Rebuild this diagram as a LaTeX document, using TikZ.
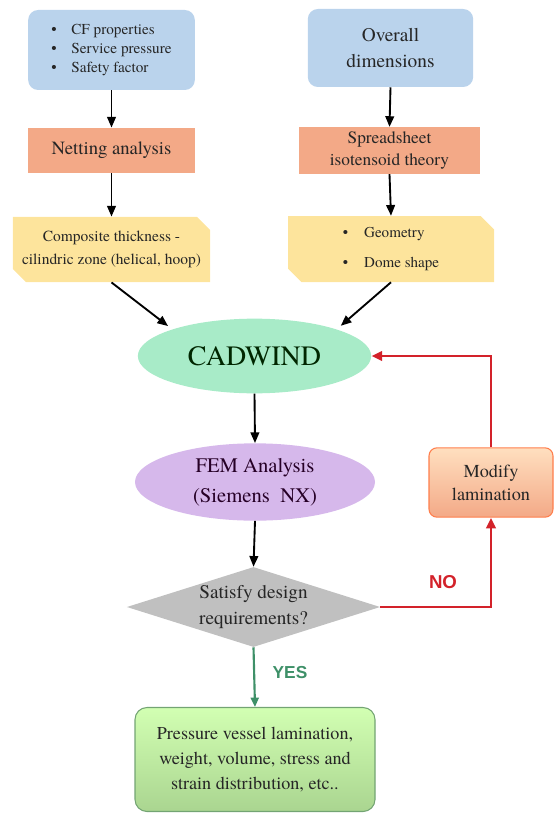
\documentclass[tikz,border=0pt]{standalone}
\usepackage{fontspec}
\setmainfont{TeX Gyre Termes}
\newfontfamily\txtfont{TeX Gyre Termes}
\newfontfamily\labfont{Liberation Sans}
\usetikzlibrary{shapes.geometric,shapes.misc,arrows.meta}

\definecolor{inblue}{HTML}{BAD3EC}
\definecolor{calcorange}{HTML}{F3A987}
\definecolor{outyellow}{HTML}{FDE49C}
\definecolor{cadgreen}{HTML}{A8EBC8}
\definecolor{femlilac}{HTML}{D6B8EB}
\definecolor{askgray}{HTML}{C0C0C0}
\definecolor{loopred}{HTML}{D3222A}
\definecolor{okgreen}{HTML}{3E9068}

% serif text of a given size and line distance
\newcommand{\boxfont}[2]{\txtfont\fontsize{#1}{#2}\selectfont}

\tikzset{
  base/.style={align=center, inner sep=0pt, text=black!85},
  inbox/.style={base, fill=inblue, rounded corners=7.5pt},
  calcbox/.style={base, fill=calcorange},
  outbox/.style={base, fill=outyellow, chamfered rectangle,
     chamfered rectangle corners={north east,south west},
     chamfered rectangle xsep=5pt, chamfered rectangle ysep=5pt},
  cadell/.style={base, ellipse, fill=cadgreen, text=green!15!black},
  femell/.style={base, ellipse, fill=femlilac, text=violet!30!black},
  ask/.style={base, diamond, aspect=3.2, fill=askgray},
  modbox/.style={base, rounded corners=6pt, draw=orange!55!red!70, line width=0.8pt,
     top color=orange!25!white, bottom color=calcorange},
  resbox/.style={base, rounded corners=9pt, draw=green!35!black!55, line width=0.8pt,
     top color=green!45!lime!30!white, bottom color=green!50!lime!45!gray!60},
  arr/.style={-{Triangle[length=8pt,width=6.5pt]}, line width=1.4pt, black},
  noline/.style={-{Triangle[length=8pt,width=7pt]}, line width=2.2pt, loopred},
  yesline/.style={-{Triangle[length=7pt,width=6pt]}, line width=1.6pt, okgreen},
  nolab/.style={font=\labfont\bfseries\fontsize{14}{16}\selectfont, text=loopred},
  yeslab/.style={font=\labfont\bfseries\fontsize{13}{15}\selectfont, text=okgreen}
}

\begin{document}
\begin{tikzpicture}[x=0.75pt,y=-0.75pt]
  \useasboundingbox (0,0) rectangle (553,813);
   %%%%%%%%%%%%%%%%% nodes %%%%%%%%%%%%%%%%%%%
   %  (px;py) centre of each box in the original

\node[inbox, minimum width=125pt, minimum height=60pt, align=left,
      font=\boxfont{11.4}{14.5}] (cf) at (111.5,50)
  {\textbullet\hspace{11pt}CF properties\\
   \textbullet\hspace{11pt}Service pressure\\
   \textbullet\hspace{11pt}Safety factor};
\node[inbox, minimum width=124pt, minimum height=58.5pt,
      font=\boxfont{14.5}{20}] (dim) at (390.5,48)
  {Overall\\dimensions};

\node[calcbox, minimum width=125pt, minimum height=34pt,
      font=\boxfont{14}{17}] (net) at (111.5,150.5)
  {Netting analysis};
\node[calcbox, minimum width=136pt, minimum height=35pt,
      font=\boxfont{13}{16.3}] (iso) at (389.5,150.5)
  {Spreadsheet\\isotensoid theory};

\node[outbox, minimum width=148pt, minimum height=49pt,
      font=\boxfont{11.6}{17.3}] (thk) at (111.5,249.5)
  {Composite thickness -\\cilindric zone (helical, hoop)};
\node[outbox, minimum width=154.5pt, minimum height=49.5pt, align=left,
      font=\boxfont{11.3}{22.5}] (geo) at (391,249)
  {\textbullet\hspace{12pt}Geometry\\
   \textbullet\hspace{12pt}Dome shape};

\node[cadell, minimum width=175pt, minimum height=56pt,
      font=\boxfont{21}{24}] (cad) at (254.5,356) {CADWIND};
\node[femell, minimum width=180pt, minimum height=58pt,
      font=\boxfont{15.5}{22.5}] (fem) at (255,482)
  {FEM Analysis\\(Siemens\ \ NX)};
\node[ask, minimum width=190pt, minimum height=60pt,
      font=\boxfont{14.4}{18.8}] (sat) at (253.5,607)
  {Satisfy design\\requirements?};

\node[modbox, minimum width=93pt, minimum height=52pt,
      font=\boxfont{13.7}{17.3}] (mod) at (491,482.5)
  {Modify\\lamination};
\node[resbox, minimum width=180pt, minimum height=78pt,
      font=\boxfont{13.6}{18.8}] (res) at (255,759.5)
  {Pressure vessel lamination,\\weight, volume, stress and\\strain distribution, etc..};

\node[nolab] (no) at (443,582) {NO};
\node[yeslab] (yes) at (290,673) {YES};

%%%%%%%%%%%%%%%%% edges %%%%%%%%%%%%%%%%%%%%%%%
\foreach \from/\to in {cf/net,dim/iso,net/thk,iso/geo,cad/fem,fem/sat}
  {\draw[arr] (\from.south) -- (\to.north);}

\draw[arr, shorten >=4pt] (thk.south) -- (cad.162);
\draw[arr, shorten >=4pt] (geo.south) -- (cad.18);

% loop back when the design fails
\draw[noline] (sat.east) -| (mod.south);
\draw[noline] (mod.north) |- (cad.east);

\draw[yesline] (sat.south) -- (res.north);
\end{tikzpicture}
\end{document}
